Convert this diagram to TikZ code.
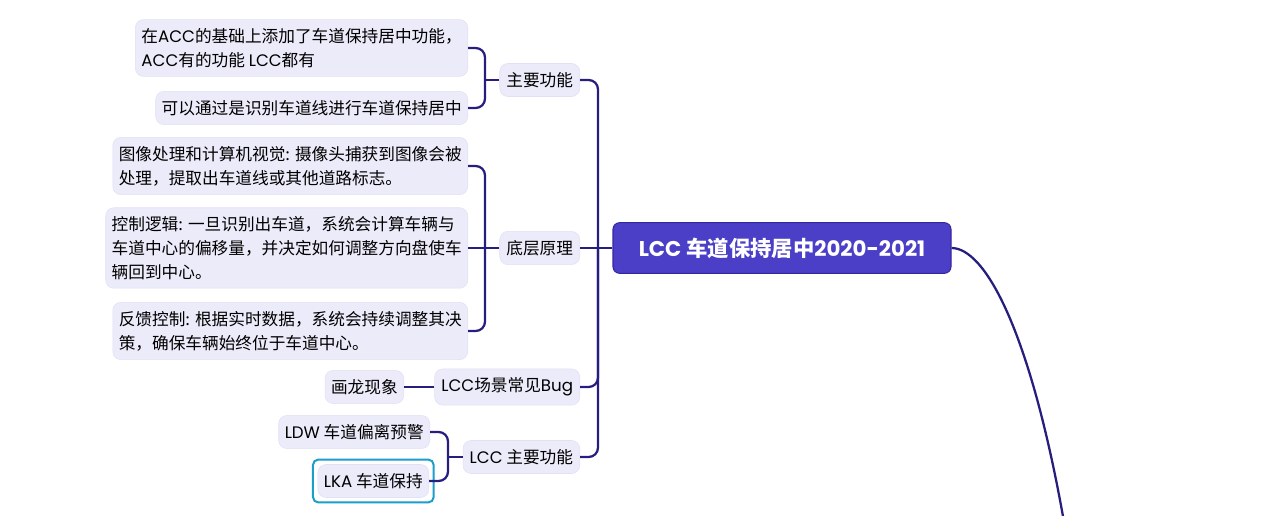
\documentclass[tikz,border=0pt]{standalone}
\usepackage{fontspec}
\setmainfont{Noto Sans CJK SC}
\newfontfamily\enfont{Poppins}
\newcommand\en[1]{{\enfont #1}}
\usetikzlibrary{fit}
\definecolor{rootfill}{HTML}{4A3FC6}
\definecolor{rootline}{HTML}{3428A0}
\definecolor{linkcol}{HTML}{261E7E}
\definecolor{topicfill}{HTML}{ECEBFA}
\definecolor{topicline}{HTML}{E2E0F4}
\definecolor{selcol}{HTML}{1C9DCA}
\tikzset{
  rootbox/.style={draw=rootline,fill=rootfill,line width=0.8pt,rounded corners=5pt,
    minimum width=253.5pt,minimum height=38pt,text=white,
    font=\fontsize{16}{18}\selectfont\bfseries},
  topicbox/.style={draw=topicline,fill=topicfill,rounded corners=6pt,
    inner xsep=5pt,inner ysep=6.6pt,font=\fontsize{12.5}{17.8}\selectfont},
  leafbox/.style={topicbox,align=left,inner xsep=4.5pt},
  selring/.style={draw=selcol,line width=1.5pt,rounded corners=4pt,inner sep=3.5pt},
  link/.style={draw=linkcol,line width=1.7pt,rounded corners=7pt},
}

\begin{document}
\begin{tikzpicture}[x=0.75pt,y=-0.75pt]
  \useasboundingbox (0,0) rectangle (1274,516);

  % centre topic
  \node[rootbox] (root) at (782,248) {\en{LCC} 车道保持居中\en{2020-2021}};

  % main branches
  \node[topicbox,anchor=east] (zy)  at (580,80)  {主要功能};
  \node[topicbox,anchor=east] (dc)  at (580,248) {底层原理};
  \node[topicbox,anchor=east] (bug) at (580,387) {\en{LCC}场景常见\en{Bug}};
  \node[topicbox,anchor=east] (lf)  at (580,457) {\en{LCC} 主要功能};

  % leaves
  \node[leafbox,anchor=east] (zy1) at (468,48)  {在\en{ACC}的基础上添加了车道保持居中功能，\\\en{ACC}有的功能 \en{LCC}都有};
  \node[leafbox,anchor=east] (zy2) at (468,108) {可以通过是识别车道线进行车道保持居中};
  \node[leafbox,anchor=east] (dc1) at (468,166) {图像处理和计算机视觉: 摄像头捕获到图像会被\\处理，提取出车道线或其他道路标志。};
  \node[leafbox,anchor=east] (dc2) at (468,248) {控制逻辑: 一旦识别出车道，系统会计算车辆与\\车道中心的偏移量，并决定如何调整方向盘使车\\辆回到中心。};
  \node[leafbox,anchor=east] (dc3) at (468,331) {反馈控制: 根据实时数据，系统会持续调整其决\\策，确保车辆始终位于车道中心。};
  \node[leafbox,anchor=east] (hl)  at (404,387) {画龙现象};
  \node[leafbox,anchor=east] (ldw) at (430,432) {\en{LDW} 车道偏离预警};
  \node[leafbox,anchor=east] (lka) at (429,481) {\en{LKA} 车道保持};
  \node[selring,fit=(lka)] (lkasel) {};

  % joints
  \coordinate (trunk) at (598,248);
  \coordinate (jzy) at (485,80);
  \coordinate (jdc) at (485,248);
  \coordinate (jlf) at (448,457);
  \coordinate (down) at (1064,522);

  % connectors
  \draw[link] (root.west) -- (dc.east);
  \draw[link] (zy.east) -| (trunk);
  \draw[link] (bug.east) -| (trunk);
  \draw[link] (lf.east) -| (trunk);
  \draw[link] (zy.west) -- (jzy);
  \draw[link] (zy1.east) -| (jzy);
  \draw[link] (zy2.east) -| (jzy);
  \draw[link] (dc.west) -- (dc2.east);
  \draw[link] (dc1.east) -| (jdc);
  \draw[link] (dc3.east) -| (jdc);
  \draw[link] (bug.west) -- (hl.east);
  \draw[link] (lf.west) -- (jlf);
  \draw[link] (ldw.east) -| (jlf);
  \draw[link] (lka.east) -| (jlf);
  \draw[link] (root.east) .. controls (985,248) and (1030,330) .. (down);
\end{tikzpicture}
\end{document}
